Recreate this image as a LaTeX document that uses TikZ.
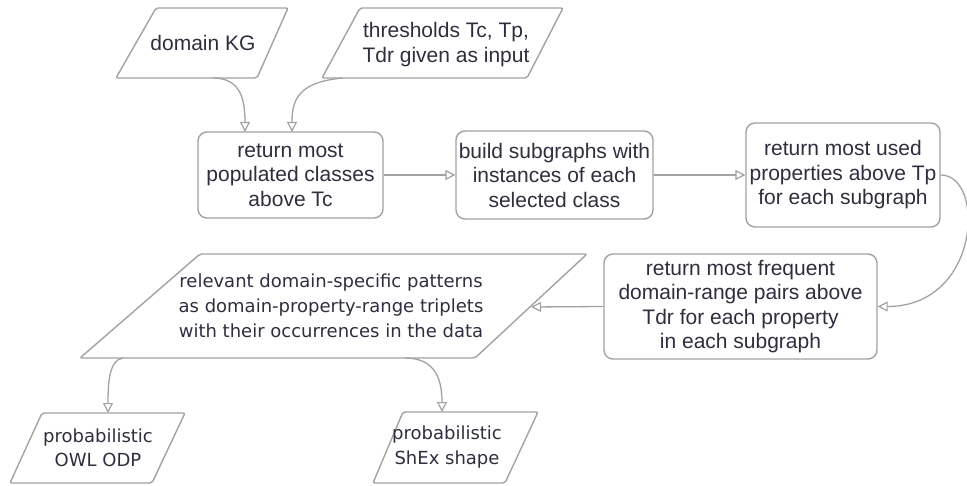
\documentclass[tikz,border=0pt]{standalone}
\usepackage{fontspec}
\setmainfont{Liberation Sans}
\newfontfamily\verd{DejaVu Sans}
\usetikzlibrary{arrows.meta}
\definecolor{ink}{HTML}{2E2F3E}
\definecolor{edge}{HTML}{A2A2A2}
\begin{document}
\begin{tikzpicture}[x=1pt,y=-1pt,
  box/.style={draw=edge, line width=1.4pt, rounded corners=9pt, fill=white, inner sep=0pt,
    align=center, text=ink, font=\fontsize{21}{24.5}\selectfont},
  para/.style={draw=edge, line width=1.4pt, rounded corners=2pt},
  atext/.style={align=center, text=ink, inner sep=0pt, font=\fontsize{21}{25}\selectfont},
  vtext/.style={align=center, text=ink, inner sep=0pt, font=\verd\fontsize{18}{25}\selectfont},
  arr/.style={draw=edge, line width=1.3pt, -{Triangle[open,length=10pt,width=10pt,line width=1.2pt]}},
]
\useasboundingbox (0,0) rectangle (967,486);

% parallelogram corners
\coordinate (kg-bl) at (116,78);  \coordinate (kg-br) at (257,78);
\coordinate (kg-tr) at (288,8);   \coordinate (kg-tl) at (156,8);
\coordinate (thr-bl) at (322,78); \coordinate (thr-br) at (527,78);
\coordinate (thr-tr) at (563,8);  \coordinate (thr-tl) at (360,8);
\coordinate (rel-bl) at (80,358); \coordinate (rel-br) at (475,358);
\coordinate (rel-tr) at (587,254);\coordinate (rel-tl) at (200,254);
\coordinate (owl-bl) at (10,483); \coordinate (owl-br) at (152,483);
\coordinate (owl-tr) at (185,413);\coordinate (owl-tl) at (42,413);
\coordinate (shex-bl) at (373,483); \coordinate (shex-br) at (505,483);
\coordinate (shex-tr) at (538,412); \coordinate (shex-tl) at (403,412);

\draw[para] (kg-bl) -- (kg-br) -- (kg-tr) -- (kg-tl) -- cycle;
\draw[para] (thr-bl) -- (thr-br) -- (thr-tr) -- (thr-tl) -- cycle;
\draw[para] (rel-bl) -- (rel-br) -- (rel-tr) -- (rel-tl) -- cycle;
\draw[para] (owl-bl) -- (owl-br) -- (owl-tr) -- (owl-tl) -- cycle;
\draw[para] (shex-bl) -- (shex-br) -- (shex-tr) -- (shex-tl) -- cycle;

% parallelogram texts
\node[atext] (kg) at (203,43) {domain KG};
\node[atext] (thr) at (446,45) {thresholds Tc, Tp,\\Tdr given as input};
\node[vtext] (rel) at (331,306) {relevant domain-specific patterns\\as domain-property-range triplets\\with their occurrences in the data};
\node[vtext, font=\verd\fontsize{18}{24.5}\selectfont] (owl) at (98,448) {probabilistic\\OWL ODP};
\node[vtext, font=\verd\fontsize{18}{24.5}\selectfont] (shex) at (447,447) {probabilistic\\ShEx shape};

% process boxes
\node[box, minimum width=185pt, minimum height=86pt] (ret) at (290.5,175) {return most\\populated classes\\above Tc};
\node[box, minimum width=197pt, minimum height=88pt] (build) at (554.5,175) {build subgraphs with\\instances of each\\selected class};
\node[box, minimum width=194pt, minimum height=104pt] (used) at (843,175) {return most used\\properties above Tp\\for each subgraph};
\node[box, minimum width=273pt, minimum height=105pt] (freq) at (740.5,306.5) {return most frequent\\domain-range pairs above\\Tdr for each property\\in each subgraph};

% connector ends
\coordinate (kg-out) at (213,78);
\coordinate (thr-out) at (343,78);
\coordinate (ret-in1) at (245,132);
\coordinate (ret-in2) at (292,132);
\coordinate (rel-in) at (531,307);
\coordinate (rel-out1) at (123,358);
\coordinate (rel-out2) at (405,358);
\coordinate (owl-in) at (108,413);
\coordinate (shex-in) at (442,412);

% connectors
\draw[arr] (kg-out) .. controls +(28,0) and +(0,-32) .. (ret-in1);
\draw[arr] (thr-out) .. controls +(-45,4) and +(0,-32) .. (ret-in2);
\draw[arr] (ret.east) -- (build.west);
\draw[arr] (build.east) -- (used.west);
\draw[arr] (used.east) .. controls +(45,0) and +(103,0) .. (freq.east);
\draw[arr] (freq.west) -- (rel-in);
\draw[arr] (rel-out1) .. controls +(-14,2) and +(0,-30) .. (owl-in);
\draw[arr] (rel-out2) .. controls +(32,0) and +(0,-30) .. (shex-in);
\end{tikzpicture}
\end{document}
